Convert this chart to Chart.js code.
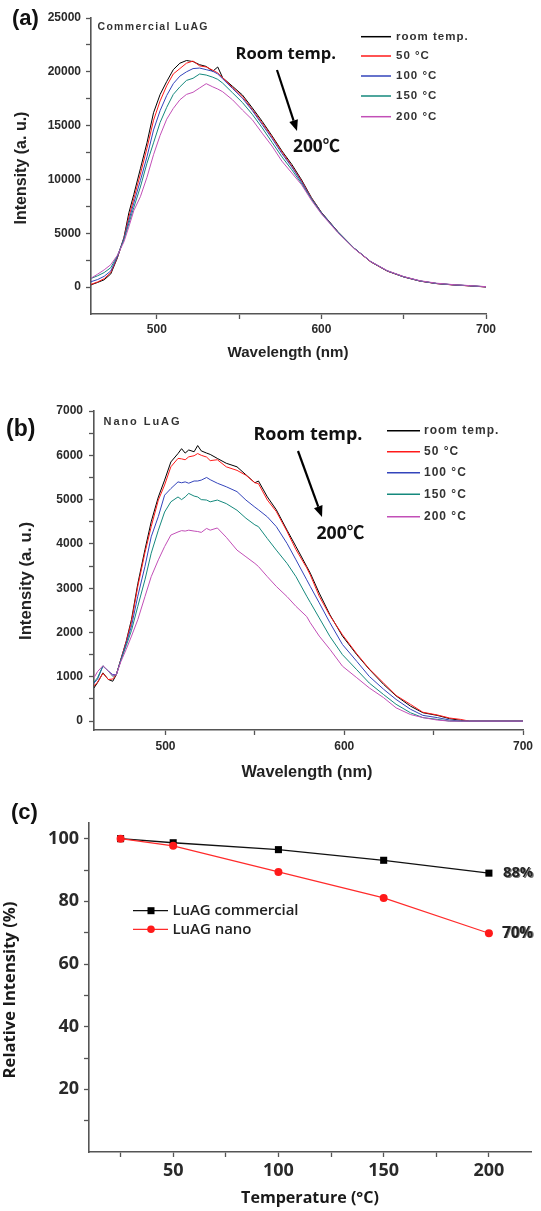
<!DOCTYPE html>
<html><head><meta charset="utf-8">
<script src="https://cdn.jsdelivr.net/npm/chart.js@4.4.1/dist/chart.umd.min.js"></script>
<style>
html,body{margin:0;padding:0;background:#fff;}
#wrap{position:relative;width:541px;height:1211px;overflow:hidden;background:#fff;}
canvas{position:absolute;left:0;}
</style></head><body>
<div id="wrap">
<canvas id="ca" width="541" height="380" style="top:0px"></canvas>
<canvas id="cb" width="541" height="405" style="top:380px"></canvas>
<canvas id="cc" width="541" height="426" style="top:785px"></canvas>
</div>
<script>
// ---------- Panel (a): Commercial LuAG spectra ----------
const wlA = [460,464,468,472,476,480,483,486,490,494,498,502,506,510,514,518,522,526,530,534,537,540,546,552,558,564,570,576,582,588,594,600,610,620,630,640,650,660,670,680,690,700];
const A_room = [210,430,680,1220,2700,4600,6900,8600,11000,13400,16200,17900,19100,20200,20800,21050,20950,20660,20500,20050,20450,19450,18650,17850,16650,15400,14050,12650,11400,9950,8300,6950,5150,3600,2350,1500,950,560,330,210,120,20];
const A_50 = [250,480,780,1350,2750,4550,6500,8200,10500,12900,15500,17300,18700,19800,20300,20800,21000,20550,20450,20150,19900,19450,18550,17700,16500,15250,13950,12550,11250,9850,8250,6900,5120,3580,2340,1480,940,550,320,200,110,10];
const A_100 = [500,700,1000,1500,2800,4500,6200,7800,9900,12100,14600,16400,17800,18900,19600,20000,20300,20350,20200,20050,19800,19350,18450,17550,16400,15100,13800,12400,11150,9750,8200,6900,5130,3600,2360,1500,950,560,330,210,120,20];
const A_150 = [800,1050,1350,1800,2900,4400,5900,7400,9300,11500,13400,15300,16700,17900,18600,19200,19400,19800,19700,19500,19300,18950,18050,17150,16050,14800,13450,12100,10900,9600,8150,6850,5100,3590,2370,1510,960,570,340,220,130,30];
const A_200 = [820,1200,1600,2080,2950,4200,5600,7100,8400,10200,12300,14100,15600,16600,17400,17900,18100,18500,18900,18600,18400,18150,17400,16450,15550,14300,13100,11700,10600,9500,8050,6800,5050,3560,2380,1530,980,590,360,230,140,40];

// ---------- Panel (b): Nano LuAG spectra ----------
const wlB = [460,462,465,468,470.5,472.5,475,478,481,484.5,488.5,492,496,499.5,503,507,509,511,513,516,518,520,523,525,529,534,540,545,550,552,557,562,568,573,579,581,586,592,599,607,614,622,629,637,644,652,659,665,670,700];
const B_room = [750,870,1090,940,900,1050,1390,1800,2300,3100,3870,4500,5060,5440,5850,6040,6150,6050,6120,6080,6220,6100,6050,6020,5930,5820,5740,5560,5380,5420,5060,4770,4310,3940,3490,3340,2890,2400,1920,1500,1170,830,570,340,190,130,55,20,0,0];
const B_50 = [790,880,1080,940,950,1050,1390,1790,2250,3040,3800,4390,4990,5330,5740,5930,5920,5900,5965,5990,6040,6000,5960,5880,5900,5740,5660,5550,5380,5360,4990,4730,4280,3870,3460,3300,2820,2380,1950,1520,1180,860,580,380,200,140,70,40,0,0];
const B_100 = [860,950,1240,1130,1050,1050,1380,1750,2150,2820,3490,4160,4620,5100,5250,5400,5380,5400,5370,5420,5420,5440,5500,5450,5370,5290,5180,4990,4830,4770,4610,4390,4010,3640,3190,3040,2670,2220,1730,1350,1010,720,490,270,130,80,25,0,0,0];
const B_150 = [880,980,1250,1130,1010,1050,1370,1700,2050,2590,3190,3790,4310,4720,4950,5060,5000,5060,5140,5080,5060,5000,4990,4950,4990,4910,4760,4580,4430,4390,4120,3860,3560,3260,2820,2680,2330,1910,1500,1160,860,600,380,190,80,40,0,0,0,0];
const B_200 = [980,1120,1250,1130,1030,1050,1340,1620,1920,2290,2810,3260,3640,3940,4200,4270,4300,4290,4310,4290,4280,4260,4350,4310,4360,4150,3860,3710,3560,3490,3260,3040,2810,2590,2360,2220,1920,1620,1240,980,750,530,300,150,80,25,0,0,0,0];

const seriesLabels = ['room temp.', '50 °C', '100 °C', '150 °C', '200 °C'];
const seriesColors = ['#000000', '#ff1a1a', '#3344bb', '#15897d', '#c24fb7'];

// ---------- Panel (c): relative intensity ----------
const tempC = [25, 50, 100, 150, 200];
const relCommercial = [100, 98.7, 96.5, 93.1, 89.0];
const relNano = [100, 97.7, 89.4, 81.1, 69.8];
const relLabels = ['LuAG commercial', 'LuAG nano'];

// tick values
const ticksAx = [500, 550, 600, 650, 700];
const ticksAy = [0,2500,5000,7500,10000,12500,15000,17500,20000,22500,25000];
const ticksBx = [500, 550, 600, 650, 700];
const ticksBy = [0,500,1000,1500,2000,2500,3000,3500,4000,4500,5000,5500,6000,6500,7000];
const ticksCx = [25, 50, 75, 100, 125, 150, 175, 200];
const ticksCy = [10, 20, 30, 40, 50, 60, 70, 80, 90, 100];

// ---------- helpers ----------
const SANS = "'Liberation Sans', Arial, sans-serif";
const KSANS = "'Open Sans', 'Noto Sans CJK KR', sans-serif";
function T(ctx, s, x, y, o) {
  ctx.save();
  const w = o.w || 'bold';
  let size = o.size || 12;
  ctx.font = `${w} ${size}px ${o.f || SANS}`;
  let ls = o.ls || 0;
  if (o.fitW) {
    const m = ctx.measureText(s).width;
    if (o.mode === 'space') ls = (o.fitW - m) / Math.max(1, s.length - 1);
    else { size = size * o.fitW / m; ctx.font = `${w} ${size}px ${o.f || SANS}`; }
  }
  ctx.letterSpacing = ls + 'px';
  ctx.fillStyle = o.color || '#000';
  ctx.textAlign = o.align || 'left';
  ctx.textBaseline = o.base || 'middle';
  ctx.translate(x, y);
  if (o.rot) ctx.rotate(o.rot);
  if (o.shadow) { ctx.fillStyle = o.shadow; ctx.fillText(s, 1.2, 0.6); ctx.fillStyle = o.color || '#000'; }
  ctx.fillText(s, 0, 0);
  ctx.restore();
}
function arrow(ctx, x1, y1, x2, y2) {
  const a = Math.atan2(y2 - y1, x2 - x1), hl = 11, hw = 4.5;
  const bx = x2 - hl * Math.cos(a), by = y2 - hl * Math.sin(a);
  ctx.save();
  ctx.strokeStyle = '#000'; ctx.fillStyle = '#000'; ctx.lineWidth = 2.2;
  ctx.beginPath(); ctx.moveTo(x1, y1); ctx.lineTo(bx, by); ctx.stroke();
  ctx.beginPath();
  ctx.moveTo(x2, y2);
  ctx.lineTo(bx + hw * Math.sin(a), by - hw * Math.cos(a));
  ctx.lineTo(bx - hw * Math.sin(a), by + hw * Math.cos(a));
  ctx.closePath(); ctx.fill();
  ctx.restore();
}
function legendLines(ctx, x1, x2, tx, ys, size) {
  ys.forEach((y, i) => {
    ctx.save(); ctx.strokeStyle = seriesColors[i]; ctx.lineWidth = 1.5;
    ctx.beginPath(); ctx.moveTo(x1, y); ctx.lineTo(x2, y); ctx.stroke(); ctx.restore();
    T(ctx, seriesLabels[i], tx, y, {size: size, color: '#333', ls: 1});
  });
}
function axisStyle(min, max, tickVals, labelFn, fontSize, fam, pad, fitProp, fitVal) {
  return {
    type: 'linear', min: min, max: max,
    afterBuildTicks: s => { s.ticks = tickVals.map(v => ({value: v})); },
    afterFit: s => { s[fitProp] = fitVal; },
    ticks: {callback: labelFn, autoSkip: false, maxRotation: 0, padding: pad,
            color: '#2a2a2a', font: {family: fam, size: fontSize, weight: 'bold'}},
    grid: {display: true, drawOnChartArea: false, drawTicks: true, tickLength: 5,
           tickColor: '#555', tickWidth: 1.3},
    border: {display: true, color: '#555', width: 1.6}
  };
}
function specDatasets(wl, arrs) {
  return arrs.map((arr, i) => ({
    label: seriesLabels[i],
    data: wl.map((w, j) => ({x: w, y: arr[j]})),
    borderColor: seriesColors[i], borderWidth: 1, pointRadius: 0, tension: 0,
    order: 4 - i
  }));
}
const baseOpts = {responsive: false, animation: false, devicePixelRatio: 1,
  plugins: {legend: {display: false}, tooltip: {enabled: false}}};

// ---------- Chart (a) ----------
new Chart(document.getElementById('ca'), {
  type: 'line',
  data: {datasets: specDatasets(wlA, [A_room, A_50, A_100, A_150, A_200])},
  options: Object.assign({}, baseOpts, {
    layout: {padding: {left: 0, right: 55, top: 18, bottom: 0}},
    scales: {
      x: axisStyle(460, 700, ticksAx, v => (v % 100 === 0 ? String(v) : ''), 12, SANS, 3, 'height', 66),
      y: axisStyle(-2500, 25000, ticksAy, v => (v % 5000 === 0 ? String(v) : ''), 12, SANS, 5, 'width', 91)
    }
  }),
  plugins: [{id: 'decoA', afterDraw(chart) {
    const c = chart.ctx;
    T(c, '(a)', 12, 19, {size: 22, color: '#111'});
    T(c, 'Commercial LuAG', 97.5, 27.5, {size: 10.5, color: '#333', fitW: 110, mode: 'space'});
    legendLines(c, 361, 391, 396, [36.7, 56, 76, 96, 116.7], 11.5);
    T(c, 'Room temp.', 235.5, 54, {f: KSANS, size: 17, fitW: 100.5, color: '#111'});
    arrow(c, 277, 70, 297, 131);
    T(c, '200℃', 293, 147, {f: KSANS, size: 17, fitW: 47, color: '#111'});
    T(c, 'Intensity (a. u.)', 22, 168, {size: 16, fitW: 113, align: 'center', rot: -Math.PI / 2, color: '#222'});
    T(c, 'Wavelength (nm)', 288, 353, {size: 15, fitW: 121, align: 'center', color: '#222'});
  }}]
});

// ---------- Chart (b) ----------
new Chart(document.getElementById('cb'), {
  type: 'line',
  data: {datasets: specDatasets(wlB, [B_room, B_50, B_100, B_150, B_200])},
  options: Object.assign({}, baseOpts, {
    layout: {padding: {left: 0, right: 18, top: 31, bottom: 0}},
    scales: {
      x: axisStyle(460, 700, ticksBx, v => (v % 100 === 0 ? String(v) : ''), 12, SANS, 4, 'height', 55),
      y: axisStyle(-200, 7000, ticksBy, v => (v % 1000 === 0 ? String(v) : ''), 12, SANS, 6, 'width', 94)
    }
  }),
  plugins: [{id: 'decoB', afterDraw(chart) {
    const c = chart.ctx;
    T(c, '(b)', 6, 50, {size: 23, color: '#111'});
    T(c, 'Nano LuAG', 103.5, 41.7, {size: 11, color: '#333', fitW: 76, mode: 'space'});
    legendLines(c, 387, 420, 424, [50.7, 71.7, 92.7, 114.3, 136.7], 12);
    T(c, 'Room temp.', 253.5, 55, {f: KSANS, size: 18, fitW: 109, color: '#111'});
    arrow(c, 298, 71, 322, 137);
    T(c, '200℃', 316.5, 154, {f: KSANS, size: 18, fitW: 48, color: '#111'});
    T(c, 'Intensity (a. u.)', 26, 201, {size: 16.5, fitW: 118, align: 'center', rot: -Math.PI / 2, color: '#222'});
    T(c, 'Wavelength (nm)', 307, 392, {size: 16, fitW: 131, align: 'center', color: '#222'});
  }}]
});

// ---------- Chart (c) ----------
new Chart(document.getElementById('cc'), {
  type: 'line',
  data: {datasets: [
    {label: relLabels[0], data: tempC.map((t, i) => ({x: t, y: relCommercial[i]})),
     borderColor: '#111', backgroundColor: '#000', borderWidth: 1.3, pointStyle: 'rect',
     pointRadius: 5, pointBorderWidth: 0, tension: 0, order: 1},
    {label: relLabels[1], data: tempC.map((t, i) => ({x: t, y: relNano[i]})),
     borderColor: '#ff2a2a', backgroundColor: '#ff1a1a', borderWidth: 1.1, pointStyle: 'circle',
     pointRadius: 4, pointBorderWidth: 0, tension: 0, order: 0}
  ]},
  options: Object.assign({}, baseOpts, {
    layout: {padding: {left: 0, right: 10, top: 38, bottom: 0}},
    scales: {
      x: axisStyle(10, 220, ticksCx, v => (v % 50 === 0 ? String(v) : ''), 18, KSANS, 3, 'height', 59),
      y: axisStyle(0, 105, ticksCy, v => (v % 20 === 0 ? String(v) : ''), 18, KSANS, 5, 'width', 89)
    }
  }),
  plugins: [{id: 'decoC', afterDraw(chart) {
    const c = chart.ctx;
    T(c, '(c)', 11, 28, {size: 22, color: '#111'});
    // legend
    const rows = [[125.7, '#111', 'rect'], [144.3, '#ff2a2a', 'circle']];
    rows.forEach((r, i) => {
      c.save(); c.strokeStyle = r[1]; c.lineWidth = 1.3;
      c.beginPath(); c.moveTo(133, r[0]); c.lineTo(168, r[0]); c.stroke();
      c.fillStyle = i === 0 ? '#000' : '#ff1a1a';
      if (r[2] === 'rect') c.fillRect(147.5, r[0] - 3.5, 7, 7);
      else { c.beginPath(); c.arc(151, r[0], 3.8, 0, Math.PI * 2); c.fill(); }
      c.restore();
      T(c, relLabels[i], 172.5, r[0], {f: KSANS, w: '600', size: 15, color: '#222', fitW: i === 0 ? 126 : 79, mode: 'space'});
    });
    T(c, '88%', 503, 88, {f: KSANS, size: 15, fitW: 30, color: '#222', shadow: '#777'});
    T(c, '70%', 502, 148.5, {f: KSANS, size: 15, fitW: 31, color: '#222', shadow: '#777'});
    T(c, 'Relative Intensity (%)', 10, 205, {f: KSANS, w: 'bold', size: 17, fitW: 177, align: 'center', rot: -Math.PI / 2, color: '#1a1a1a'});
    T(c, 'Temperature (°C)', 310, 413, {f: KSANS, w: 'bold', size: 17, fitW: 138, align: 'center', color: '#1a1a1a'});
  }}]
});
</script>
</body></html>
